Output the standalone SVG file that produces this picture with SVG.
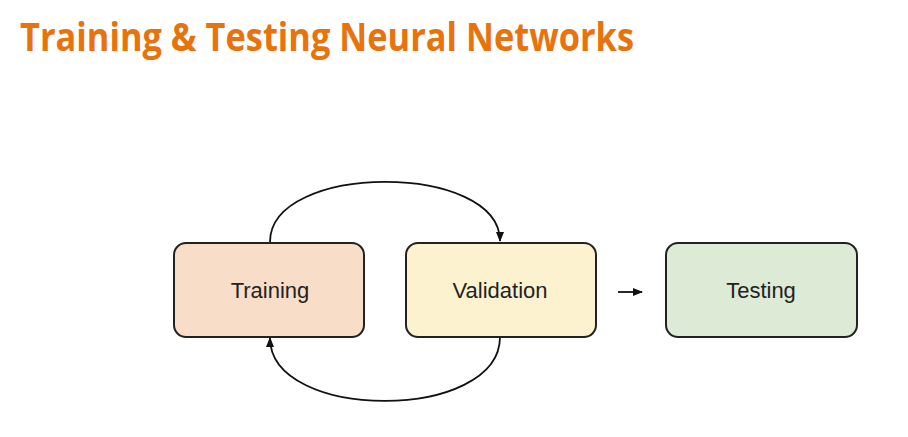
<svg xmlns="http://www.w3.org/2000/svg" width="908" height="437" viewBox="0 0 908 437">
<style>
.box{stroke:#222;stroke-width:2}
.lbl{font-family:"Liberation Sans",Arial,sans-serif;font-size:22px;fill:#222;text-anchor:middle}
.conn{fill:none;stroke:#111;stroke-width:1.8}
</style>
<defs>
<marker id="ah" markerWidth="10" markerHeight="8" refX="9" refY="4" orient="auto" markerUnits="userSpaceOnUse">
<path d="M0,0 L10,4 L0,8 Z" fill="#111"/>
</marker>
</defs>
<rect width="908" height="437" fill="#fff"/>
<text x="20" y="51" font-family="Open Sans,'Liberation Sans',sans-serif" font-weight="bold" font-size="40" fill="#E8720C" textLength="614" lengthAdjust="spacingAndGlyphs">Training &amp; Testing Neural Networks</text>
<g id="connectors">
<path class="conn" d="M270,242 C270,162 500,162 500,241" marker-end="url(#ah)"/>
<path class="conn" d="M500,337 C500,422 270,422 270,338" marker-end="url(#ah)"/>
<path class="conn" d="M618,292 L642,292" marker-end="url(#ah)"/>
</g>
<g id="training">
<rect class="box" x="174" y="243" width="190" height="94" rx="12" fill="#F8DDC8"/>
<text class="lbl" x="270" y="298">Training</text>
</g>
<g id="validation">
<rect class="box" x="406" y="243" width="190" height="94" rx="12" fill="#FDF2D0"/>
<text class="lbl" x="500" y="298">Validation</text>
</g>
<g id="testing">
<rect class="box" x="666" y="243" width="191" height="94" rx="12" fill="#DDEBD6"/>
<text class="lbl" x="761" y="298">Testing</text>
</g>
</svg>
